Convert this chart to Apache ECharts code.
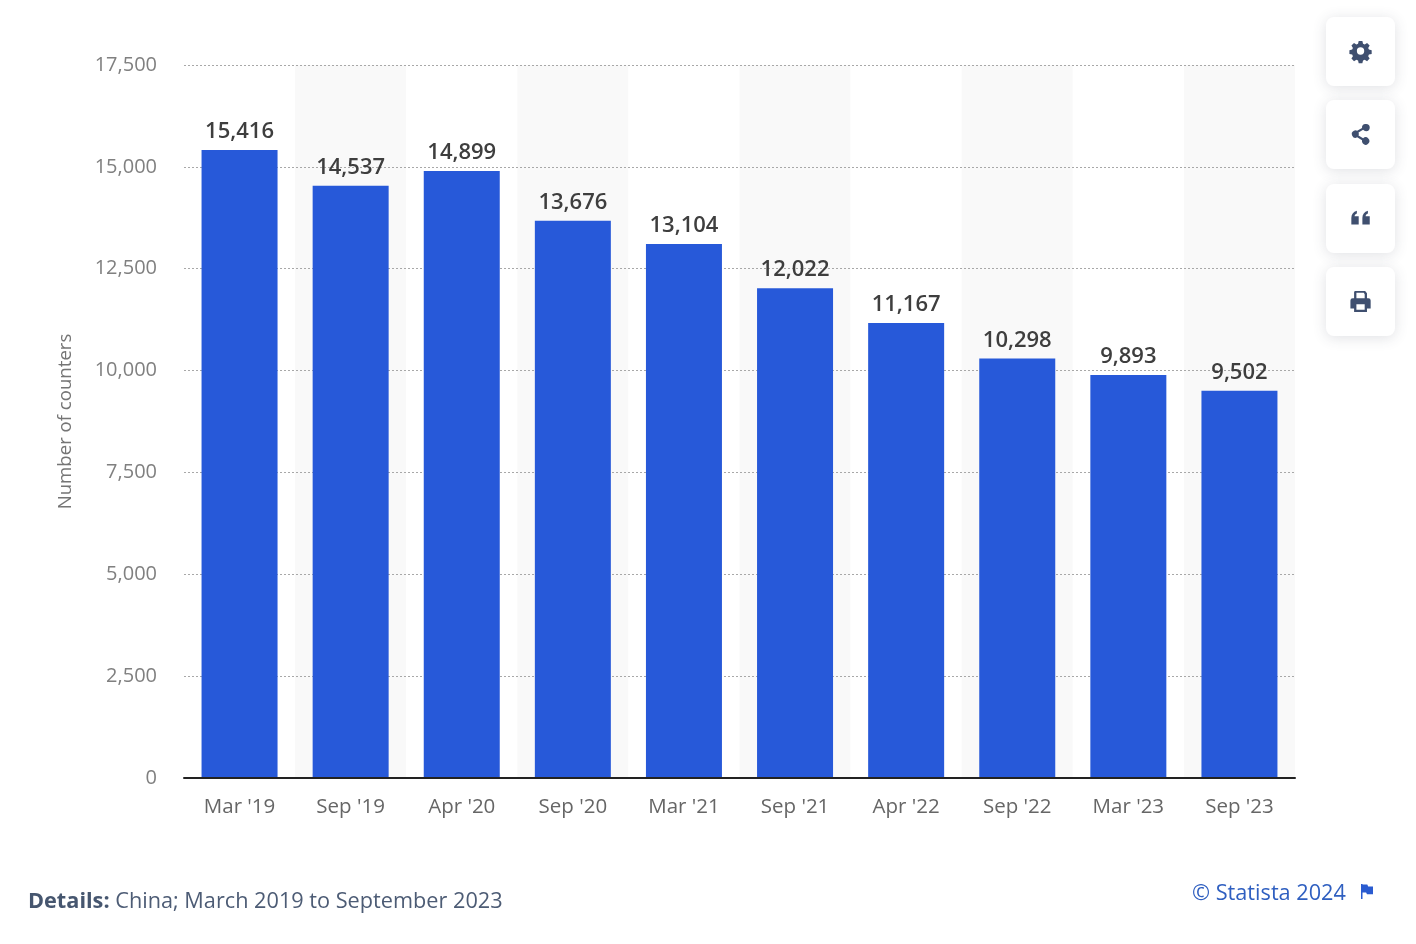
<!DOCTYPE html>
<html>
<head>
<meta charset="utf-8">
<style>
html, body { margin: 0; padding: 0; background: #fff; }
#main { width: 1416px; height: 944px; }
</style>
<script src="https://cdn.jsdelivr.net/npm/echarts@6/dist/echarts.min.js"></script>
</head>
<body>
<div id="main"></div>
<script>
var categories = ["Mar '19", "Sep '19", "Apr '20", "Sep '20", "Mar '21", "Sep '21", "Apr '22", "Sep '22", "Mar '23", "Sep '23"];
var counters = [15416, 14537, 14899, 13676, 13104, 12022, 11167, 10298, 9893, 9502];
var yTicks = [0, 2500, 5000, 7500, 10000, 12500, 15000, 17500];

var FONT = '"Open Sans", "Noto Sans", sans-serif';

// 右侧按钮的图标 (24x24)
var icons = [
    // gear
    'M10 1h4l.7 3 1.800.8 2.600-1.600 2.800 2.800-1.600 2.600.8 1.800 3 .7v4l-3 .7-.8 1.800 1.600 2.600-2.800 2.800-2.600-1.600-1.800.8-.7 3h-4l-.7-3-1.800-.8-2.600 1.600-2.800-2.800 1.600-2.600-.8-1.800-3-.7v-4l3-.7.8-1.800-1.600-2.600 2.800-2.800 2.600 1.600 1.800-.8zM12 8a4 4 0 1 0 0 8 4 4 0 0 0 0-8z',
    // share
    'M18 1a4 4 0 1 1-3.200 6.400L9.800 10.300a4 4 0 0 1 0 3.400l5 2.900a4 4 0 1 1-1.200 2.100L8.300 15.600a4 4 0 1 1 0-7.200l5.300-3.100A4 4 0 0 1 18 1z',
    // quote
    'M2 12c0-4 2-7 6-8v3c-1.500.5-2.300 1.500-2.500 3H10v9H2zM14 12c0-4 2-7 6-8v3c-1.500.5-2.300 1.500-2.500 3H22v9h-8z',
    // print
    'M6 1h11l2 2.500V9h1.500A2.500 2.500 0 0 1 23 11.500V20h-4v4H5v-4H1v-8.500A2.500 2.500 0 0 1 3.500 9H5V2zM7.500 3V9h9V4.500L15.500 3zM7.500 15.500v6h9v-6z'
];
var iconBoxTops = [17, 100, 184, 267];
var flagIcon = 'M0 0h2.500v25H0zM2.500 1h8l1.500 3h8v13H10L8.500 14h-6z';

icons.forEach(function(d, i) {
    echarts.graphic.registerShape('icon' + i, echarts.graphic.extendPath(d, {}));
});
echarts.graphic.registerShape('flagIcon', echarts.graphic.extendPath(flagIcon, {}));

var graphics = [];
iconBoxTops.forEach(function(top, i) {
    graphics.push({
        type: 'rect',
        shape: { x: 1326, y: top, width: 69, height: 69, r: 8 },
        style: { fill: '#fff', shadowBlur: 14, shadowColor: 'rgba(60,70,90,0.16)', shadowOffsetY: 2 },
        z: 10
    });
    graphics.push({
        type: 'icon' + i,
        x: 1349.5,
        y: top + 23,
        scaleX: 0.92,
        scaleY: 0.92,
        style: { fill: '#3f4f6f' },
        z: 11
    });
});
// 版权行的小旗子
graphics.push({
    type: 'flagIcon',
    x: 1361,
    y: 884,
    scaleX: 0.6,
    scaleY: 0.6,
    style: { fill: '#2a5bd0' },
    z: 11
});
graphics.push({
    type: 'text',
    x: 28,
    y: 891,
    style: {
        rich: {
            b: { fontFamily: FONT, fontSize: 21.7, fontWeight: 'bold', fill: '#46566f' },
            n: { fontFamily: FONT, fontSize: 21.7, fill: '#4d5c75' }
        },
        text: '{b|Details:}{n| China; March 2019 to September 2023}'
    }
});
graphics.push({
    type: 'text',
    x: 1192,
    y: 883,
    style: { text: '© Statista 2024', fontFamily: FONT, fontSize: 21.7, fill: '#2f5fc0' }
});

var myChart = echarts.init(document.getElementById('main'), null, { renderer: 'canvas' });
var option = {
    backgroundColor: '#fff',
    animation: false,
    textStyle: { fontFamily: FONT },
    grid: { left: 184, right: 121, top: 65, bottom: 166 },
    xAxis: [{
        // 只画底色条纹，放在网格线和柱子下面
        type: 'category',
        z: 0,
        position: 'bottom',
        data: categories,
        axisLine: { show: false },
        axisTick: { show: false },
        axisLabel: { show: false },
        splitArea: { show: true, interval: 0, areaStyle: { color: ['#fff', '#f9f9f9'] } }
    }, {
        // 轴线和标签，盖在柱子上面
        type: 'category',
        z: 3,
        position: 'bottom',
        data: categories,
        axisLine: { lineStyle: { color: '#222', width: 2 } },
        axisTick: { show: false },
        axisLabel: { color: '#666', fontSize: 20.5, margin: 19, interval: 0, fontFamily: FONT },
        splitArea: { show: false }
    }],
    yAxis: {
        type: 'value',
        z: 1,
        min: yTicks[0],
        max: yTicks[yTicks.length - 1],
        interval: 2500,
        name: 'Number of counters',
        nameLocation: 'middle',
        nameGap: 109,
        nameRotate: 90,
        nameTextStyle: { color: '#757575', fontSize: 18.6, fontFamily: FONT },
        axisLine: { show: false },
        axisTick: { show: false },
        axisLabel: {
            color: '#808080',
            fontSize: 20,
            margin: 27,
            padding: [4, 0, 0, 0],
            fontFamily: FONT,
            formatter: function(v) { return echarts.format.addCommas(v); }
        },
        splitLine: { lineStyle: { color: '#a8a8a8', type: [2, 2], width: 1 } }
    },
    series: [{
        name: 'Number of counters',
        type: 'bar',
        data: counters,
        barWidth: 76,
        itemStyle: { color: '#2759d9' },
        label: {
            show: true,
            position: 'top',
            distance: 7,
            color: '#3e3e3e',
            fontSize: 22,
            fontWeight: 600,
            fontFamily: FONT,
            formatter: function(p) { return echarts.format.addCommas(p.value); }
        }
    }],
    graphic: graphics
};
myChart.setOption(option);
</script>
</body>
</html>
